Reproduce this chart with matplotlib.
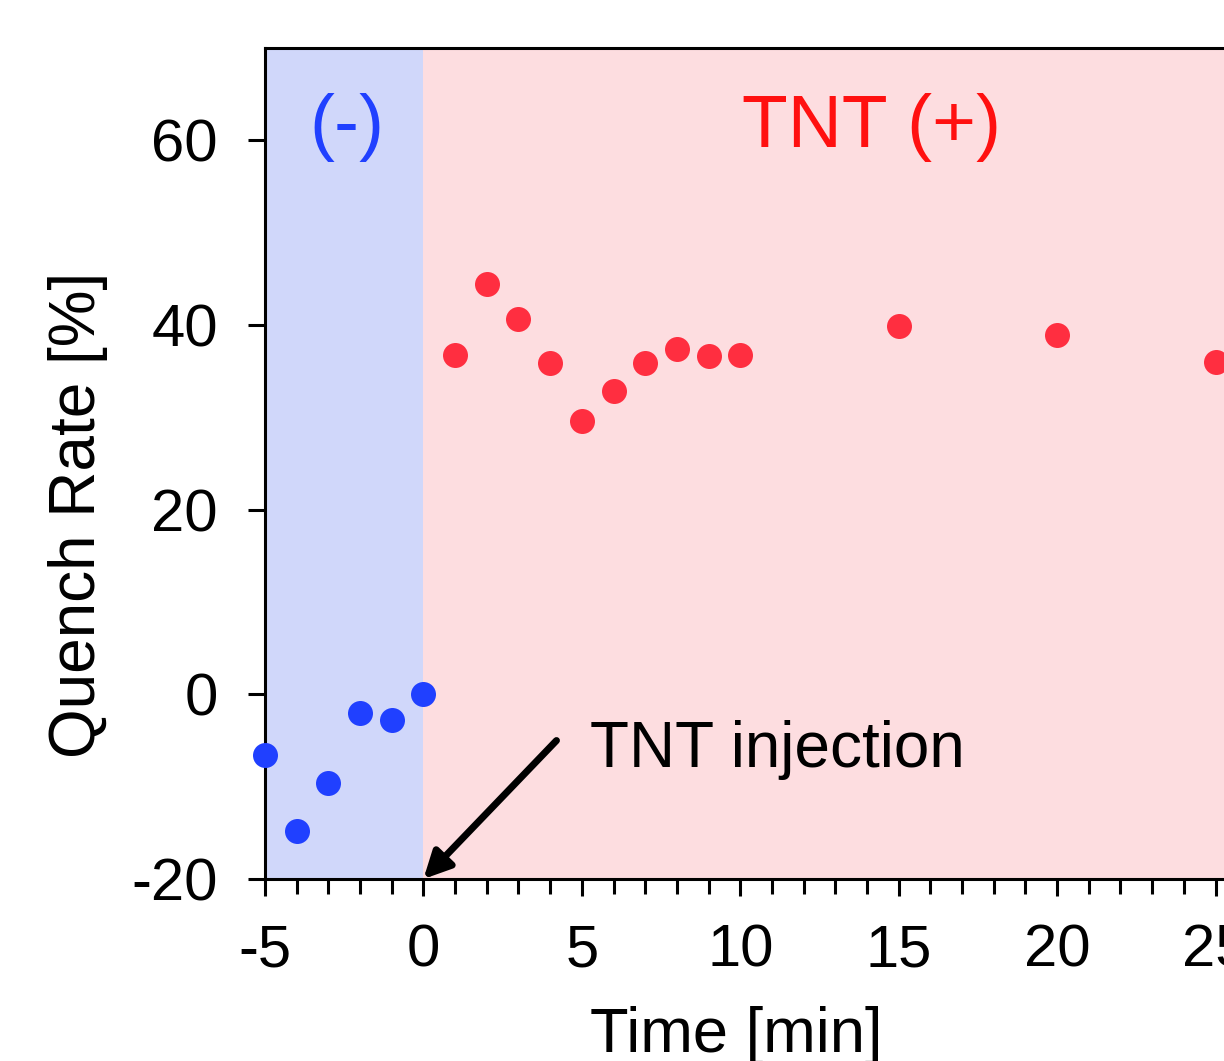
import matplotlib
matplotlib.use("Agg")
import matplotlib.pyplot as plt
from matplotlib.ticker import MultipleLocator

plt.rcParams['font.family'] = ['Liberation Sans', 'DejaVu Sans']
plt.rcParams['axes.unicode_minus'] = False

neg_time = [-5, -4, -3, -2, -1, 0]
neg_rate = [-6.6, -14.8, -9.6, -2.0, -2.8, 0.0]
pos_time = [1, 2, 3, 4, 5, 6, 7, 8, 9, 10, 15, 20, 25]
pos_rate = [36.8, 44.4, 40.7, 35.9, 29.6, 32.9, 35.9, 37.4, 36.6, 36.8, 39.9, 38.9, 36.0]

fig = plt.figure(figsize=(12.24, 10.61), dpi=100)
ax = fig.add_axes([0.2165, 0.1715, 0.906, 0.7833])
ax.set_xlim(-5, 30)
ax.set_ylim(-20, 70)

ax.axvspan(-5, 0, color='#D0D7FA', zorder=0, lw=0)
ax.axvspan(0, 30, color='#FDDDE0', zorder=0, lw=0)

ax.plot(neg_time, neg_rate, 'o', color='#2040FF', ms=18, mec='none', clip_on=False, zorder=3)
ax.plot(pos_time, pos_rate, 'o', color='#FF2E40', ms=18, mec='none', clip_on=False, zorder=3)

ax.xaxis.set_major_locator(MultipleLocator(5))
ax.xaxis.set_minor_locator(MultipleLocator(1))
ax.yaxis.set_major_locator(MultipleLocator(20))
ax.tick_params(axis='both', which='major', direction='out', length=12, width=2.2, labelsize=43)
ax.tick_params(axis='x', which='major', pad=20)
ax.tick_params(axis='y', which='major', pad=22)
ax.tick_params(axis='x', which='minor', direction='out', length=11, width=2.2)
for s in ax.spines.values():
    s.set_linewidth(2.2)

fig.text(736 / 1224, 1 - 1052 / 1061, 'Time [min]', fontsize=45.5, ha='center', va='baseline')
fig.text(78 / 1224, 1 - 515 / 1061, 'Quench Rate [%]', fontsize=46, rotation=90,
         ha='center', va='center')

ax.text(-2.4, 61.4, '(-)', color='#2040FF', fontsize=54, ha='center', va='center')
ax.text(14.15, 61.4, 'TNT (+)', color='#FF1010', fontsize=54, ha='center', va='center')
ax.text(5.25, -6.0, 'TNT injection', fontsize=46, ha='left', va='center')
ax.annotate('', xy=(0, -20), xytext=(4.2, -5.0),
            arrowprops=dict(arrowstyle='-|>', color='black', lw=5, mutation_scale=40,
                            shrinkA=0, shrinkB=0))
fig.savefig('out.png', dpi=100)
